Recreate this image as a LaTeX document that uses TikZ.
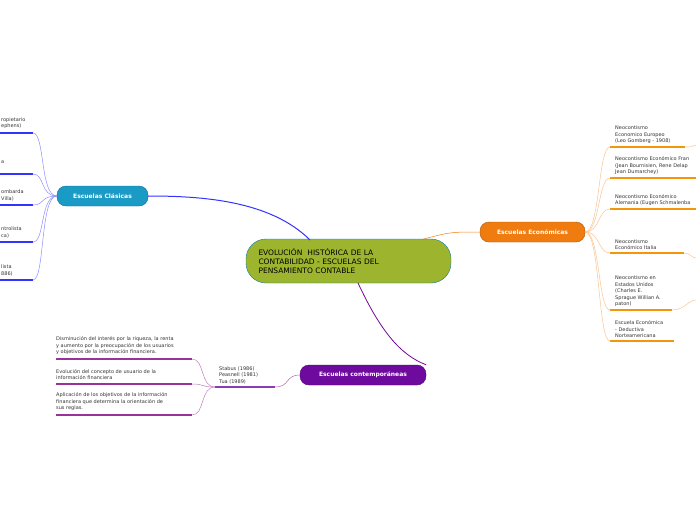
\documentclass[tikz,border=0pt]{standalone}
\usepackage{fontspec}
\setmainfont{DejaVu Sans}
\definecolor{olivec}{HTML}{9DB52E}
\definecolor{bluec}{HTML}{1A9BC6}
\definecolor{orangec}{HTML}{F07C0F}
\definecolor{purplec}{HTML}{6E0A9E}
\tikzset{
  main/.style={draw=bluec!80!black, fill=olivec, rounded corners=20pt, minimum width=205pt, minimum height=44pt, text width=180pt, align=left, font=\fontsize{7.5}{9}\selectfont},
  branch/.style={draw=#1!70!black, fill=#1, rounded corners=9pt, minimum height=20pt, text=white, font=\bfseries\fontsize{6}{7}\selectfont},
  leaf/.style={anchor=south west, align=left, inner sep=1pt, font=\fontsize{5}{6.5}\selectfont, text=black!80},
  uline/.style={draw=#1, line width=1.2pt},
  wire/.style={draw=#1, line width=0.5pt}
}
\begin{document}
\begin{tikzpicture}[x=1pt,y=-1pt]
  \useasboundingbox (0,0) rectangle (696,520);
  \clip (0,0) rectangle (696,520);
  % central topic
  \node[main] (root) at (348.5,261) {EVOLUCIÓN \ HISTÓRICA DE LA\\CONTABILIDAD - ESCUELAS DEL\\PENSAMIENTO CONTABLE};
  \node[branch=bluec, minimum width=91pt] (clas) at (102.5,196) {Escuelas Clásicas};
  \node[branch=orangec, minimum width=105pt] (econ) at (532.5,232) {Escuelas Económicas};
  \node[branch=purplec, minimum width=126pt] (cont) at (363,375) {Escuelas contemporáneas};
  \draw[wire=blue!80, line width=1pt] (310,240) .. controls (270,200) and (200,196) .. (clas.east);
  \draw[wire=orangec] (420,240) .. controls (450,232) .. (econ.west);
  \draw[wire=purplec!70!violet, line width=0.8pt] (358,283) .. controls (380,330) and (400,355) .. (cont.north east);

  % classical leaves
  \foreach \y/\txt in {133/{ropietario\\ephens)}, 174/{a\\ }, 205/{ombarda\\ Villa)}, 242/{ntrolista\\ca)}, 280/{lista\\886)}}{
    \draw[uline=blue!80] (0,\y) -- (33,\y);
    \draw[wire=blue!45] (33,\y) .. controls (45,\y) and (40,196) .. (clas.west);
    \node[leaf] at (0,\y-3) {\txt};
  }

  % economic leaves
  \foreach \y/\e/\txt in {147/685/{Neocontismo\\Economico Europeo\\(Leo Gomberg - 1908)},
      178/696/{Neocontismo Económico Fran\\(Jean Bournisien, Rene Delap\\Jean Dumarchey)},
      209/696/{Neocontismo Económico\\Alemania (Eugen Schmalenba},
      253/684/{Neocontismo\\Económico Italia},
      310/672/{Neocontismo en\\Estados Unidos\\(Charles E.\\Sprague Willian A.\\paton)},
      341/674/{Escuela Económica\\- Deductiva\\Norteamericana}}{
    \draw[uline=orangec!80!yellow] (610,\y) -- (\e,\y);
    \draw[wire=orangec!45] (610,\y) .. controls (598,\y) and (600,232) .. (econ.east);
    \node[leaf] at (614,\y-2) {\txt};
  }
  \draw[wire=orangec!45] (684,253) .. controls (690,253) and (692,258) .. (696,258);
  \draw[wire=orangec!45] (672,310) .. controls (685,310) and (688,300) .. (696,300);
  \draw[wire=orangec!45] (685,147) .. controls (690,147) .. (696,145);

  % contemporary leaves
  \coordinate (sub) at (215,387);
  \draw[uline=purplec!80] (sub) -- (275,387);
  \draw[wire=violet!60] (275,387) .. controls (290,387) and (285,375) .. (cont.west);
  \node[leaf] at (218,385) {Stabus (1986)\\Peasnell (1981)\\Tua (1989)};
  \foreach \y/\txt in {359/{Disminución del interés por la riqueza, la renta\\y aumento por la preocupación de los usuarios\\y objetivos de la información financiera.},
      384/{Evolución del concepto de usuario de la\\información financiera},
      415/{Aplicación de los objetivos de la información\\financiera que determina la orientación de\\sus reglas.}}{
    \draw[uline=violet!80] (56,\y) -- (192,\y);
    \draw[wire=violet!50] (192,\y) .. controls (205,\y) and (200,387) .. (sub);
    \node[leaf] at (55,\y-3) {\txt};
  }
\end{tikzpicture}
\end{document}
